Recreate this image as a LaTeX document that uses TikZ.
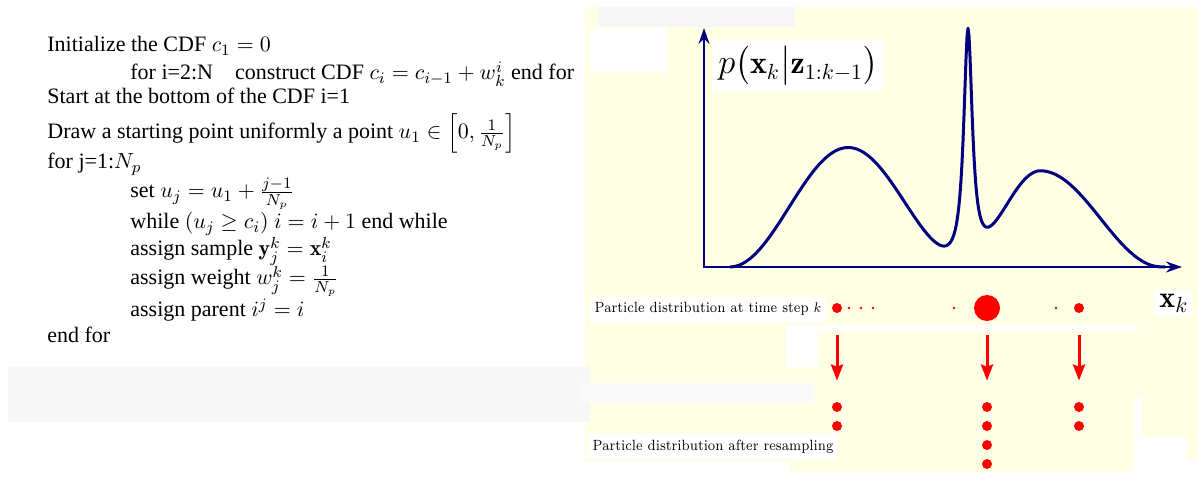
\documentclass[tikz,border=0pt]{standalone}
\usepackage{amsmath,amssymb}
\usepackage{fontspec}
\newfontfamily\timesfont{Liberation Serif}
\usetikzlibrary{arrows.meta}
\definecolor{cream}{RGB}{255,255,229}
\definecolor{navyline}{RGB}{0,0,128}
\definecolor{partred}{RGB}{255,0,0}
\definecolor{bandgrey}{RGB}{247,247,247}

\begin{document}
\begin{tikzpicture}[x=0.5pt,y=-0.5pt,
  algo/.style={anchor=base west,inner sep=0pt,font=\timesfont\fontsize{11}{13}\selectfont},
  plabel/.style={anchor=base west,fill=white,inner xsep=2.5pt,inner ysep=3pt,xscale=0.875,font=\fontsize{7.4}{9}\selectfont},
  particle/.style={circle,fill=partred,inner sep=0pt,minimum size=#1},
  particle/.default=5pt,
  axis/.style={navyline,line width=1pt,{Stealth[length=8pt,width=5.5pt]}-{Stealth[length=8pt,width=5.5pt]}},
  resample/.style={partred,line width=1.5pt,-{Stealth[length=8pt,width=6pt,inset=1pt]}},
  declare function={dens(\t)=119*(cos(90*min(abs(\t-848)/118,1)))^2
      +237/(1+((\t-968)/5.3)^2)
      +95*(cos(90*min(abs(\t-1041)/(80+40*(\t>1041)),1)))^2;}]
  % backdrop
  \fill[white] (0,0) rectangle (1198,480);
  \fill[cream] (585,7) rectangle (1198,472);
  \fill[white!97!black] (598,7) rectangle (795,27);
  \fill[white] (590,28) rectangle (667,72);
  \fill[white] (786,325) rectangle (1137,331);
  \fill[white] (786,331) rectangle (818,367);
  \fill[white] (1134,398) rectangle (1198,480);
  \fill[cream] (1142,398) rectangle (1198,437);
  \fill[cream] (1187,437) rectangle (1198,460);
  \fill[white] (585,462) rectangle (790,480);
  \fill[bandgrey] (8,367) rectangle (590,422);
  \fill[bandgrey!60!white] (580,383) rectangle (814,403);

  % algorithm
  \node[algo] (init)    at (47,52)  {Initialize the CDF $c_1 = 0$};
  \node[algo] (loopi)   at (130,80) {for i=2:N\quad construct CDF $c_i = c_{i-1} + w_k^i$ end for};
  \node[algo] (start)   at (47,104) {Start at the bottom of the CDF i=1};
  \node[algo] (drawu)   at (47,139) {Draw a starting point uniformly a point $u_1 \in \left[0,\frac{1}{N_p}\right]$};
  \node[algo] (loopj)   at (47,169) {for j=1:$N_p$};
  \node[algo] (setu)    at (130,198) {set $u_j = u_1 + \frac{j-1}{N_p}$};
  \node[algo] (whileu)  at (130,229) {while $(u_j \geq c_i)$ $i = i+1$ end while};
  \node[algo] (sample)  at (130,256) {assign sample $\mathbf{y}_j^k = \mathbf{x}_i^k$};
  \node[algo] (weight)  at (130,285) {assign weight $w_j^k = \frac{1}{N_p}$};
  \node[algo] (parent)  at (130,317) {assign parent $i^j = i$};
  \node[algo] (endfor)  at (47,343) {end for};

  % density plot
  \coordinate (origin) at (704,267);
  \coordinate (ytip) at (704,28);
  \coordinate (xtip) at (1182,267);
  \draw[axis] (ytip) -- (origin) -- (xtip);
  \draw[navyline,line width=1.5pt,line join=round]
    plot[domain=730:1165,samples=436] (\x,{267-dens(\x)});
  \node[anchor=base west,fill=white,inner sep=2.5pt,font=\fontsize{16}{18}\selectfont] (dlabel) at (713,74)
    {$p\big(\mathbf{x}_k\big|\mathbf{z}_{1:k-1}\big)$};
  \node[anchor=base west,fill=white,inner sep=2pt,font=\fontsize{15}{17}\selectfont] (xlabel) at (1155,307) {$\mathbf{x}_k$};

  % particles before resampling
  \node[plabel] (before) at (590,313) {Particle distribution at time step $k$};
  \node[particle] (pa) at (837,308) {};
  \foreach \p in {849,861,873,954,1056}
    \node[particle=1.3pt] at (\p,308) {};
  \node[particle=13pt] (pb) at (987,308) {};
  \node[particle] (pc) at (1079,308) {};

  % particles after resampling
  \node[plabel] (after) at (588,450) {Particle distribution after resampling};
  \foreach \r in {1,2}
    \node[particle] (qa\r) at (837,{388+19*\r}) {};
  \foreach \r in {1,2,3,4}
    \node[particle] (qb\r) at (987,{388+19*\r}) {};
  \foreach \r in {1,2}
    \node[particle] (qc\r) at (1079,{388+19*\r}) {};

  \draw[resample,shorten <=11pt,shorten >=10.5pt] (pa) -- (qa1);
  \draw[resample,shorten <=7pt,shorten >=10.5pt] (pb) -- (qb1);
  \draw[resample,shorten <=11pt,shorten >=10.5pt] (pc) -- (qc1);
\end{tikzpicture}
\end{document}
